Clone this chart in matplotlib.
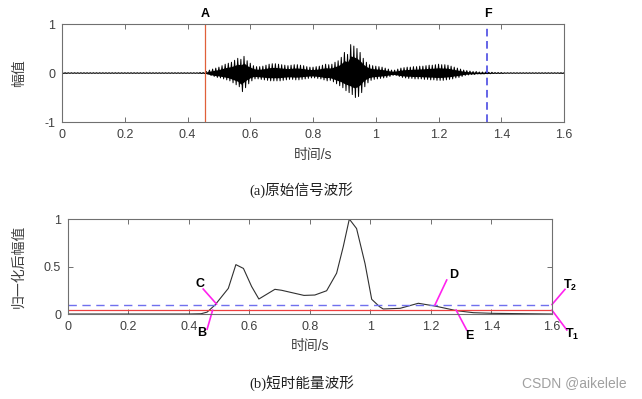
import numpy as np
import matplotlib
matplotlib.use("Agg")
import matplotlib.pyplot as plt

plt.rcParams['font.family'] = ['Liberation Sans', 'Noto Sans CJK SC', 'DejaVu Sans']
plt.rcParams['axes.unicode_minus'] = False
plt.rcParams['mathtext.fontset'] = 'custom'
plt.rcParams['mathtext.bf'] = 'Liberation Sans:bold'
plt.rcParams['mathtext.rm'] = 'Liberation Sans'

# --- waveform envelope (0.01 s steps) ---
wave_t0 = 0.0
wave_dt = 0.01
quiet_before = [0.006] * 44      # 0.00 .. 0.43
quiet_after = [0.006] * 20       # 1.41 .. 1.60
speech_upper = [
    0.01, 0.01, 0.03, 0.06, 0.08, 0.10, 0.12, 0.15, 0.18, 0.20, 0.22, 0.26, 0.30, 0.28, 0.34, 0.25,
    0.20, 0.15, 0.13, 0.13, 0.14, 0.16, 0.18, 0.19, 0.19, 0.18, 0.17, 0.16, 0.15, 0.16, 0.17, 0.17,
    0.16, 0.15, 0.13, 0.12, 0.12, 0.13, 0.14, 0.16, 0.18, 0.17, 0.18, 0.22, 0.25, 0.32, 0.42, 0.38,
    0.58, 0.55, 0.50, 0.42, 0.30, 0.22, 0.17, 0.15, 0.14, 0.13, 0.12, 0.10, 0.08, 0.06, 0.06, 0.08,
    0.10, 0.11, 0.12, 0.12, 0.13, 0.13, 0.14, 0.14, 0.15, 0.16, 0.16, 0.17, 0.18, 0.17, 0.17, 0.16,
    0.14, 0.12, 0.10, 0.08, 0.06, 0.05, 0.04, 0.03, 0.03, 0.02, 0.02, 0.02, 0.015, 0.015, 0.01, 0.01,
    0.01,
]
speech_lower = [
    0.01, 0.01, 0.02, 0.05, 0.07, 0.09, 0.10, 0.12, 0.14, 0.16, 0.20, 0.24, 0.28, 0.38, 0.30, 0.22,
    0.16, 0.12, 0.12, 0.13, 0.14, 0.15, 0.16, 0.16, 0.16, 0.16, 0.15, 0.14, 0.13, 0.13, 0.14, 0.14,
    0.13, 0.12, 0.11, 0.10, 0.10, 0.11, 0.12, 0.14, 0.16, 0.15, 0.18, 0.22, 0.26, 0.30, 0.36, 0.40,
    0.44, 0.50, 0.48, 0.40, 0.28, 0.20, 0.15, 0.13, 0.12, 0.11, 0.10, 0.09, 0.07, 0.05, 0.05, 0.07,
    0.09, 0.10, 0.11, 0.11, 0.12, 0.12, 0.12, 0.13, 0.13, 0.14, 0.14, 0.15, 0.15, 0.15, 0.14, 0.13,
    0.12, 0.10, 0.09, 0.07, 0.05, 0.04, 0.03, 0.03, 0.02, 0.02, 0.02, 0.015, 0.015, 0.01, 0.01, 0.01,
    0.01,
]
point_A = 0.456
point_F = 1.356

# --- short-time energy (normalised) ---
energy_t = [0, 0.40, 0.44, 0.46, 0.486, 0.53, 0.555, 0.58, 0.607, 0.631, 0.684, 0.706, 0.78,
            0.816, 0.855, 0.888, 0.91, 0.93, 0.954, 0.982, 1.004, 1.03, 1.042, 1.098, 1.158,
            1.213, 1.285, 1.34, 1.405, 1.6]
energy_v = [0, 0, 0.003, 0.02, 0.095, 0.27, 0.52, 0.48, 0.29, 0.158, 0.26, 0.25, 0.196,
            0.2, 0.245, 0.43, 0.71, 1.0, 0.9, 0.53, 0.155, 0.077, 0.053, 0.06, 0.113,
            0.084, 0.035, 0.014, 0.007, 0.0]
T1 = 0.04
T2 = 0.10

x_ticks = [0, 0.2, 0.4, 0.6, 0.8, 1, 1.2, 1.4, 1.6]
x_ticklabels = ['0', '0.2', '0.4', '0.6', '0.8', '1', '1.2', '1.4', '1.6']

TICK_C = '#404040'
SPINE_C = '#707070'
MAGENTA = '#ff22ee'


def style_axes(ax):
    for s in ax.spines.values():
        s.set_color(SPINE_C)
        s.set_linewidth(0.8)
    ax.tick_params(direction='in', length=3.5, width=0.7, color=SPINE_C,
                   labelcolor=TICK_C, labelsize=9, top=True, right=True, pad=5)
    ax.set_xlim(0, 1.6)
    ax.set_xticks(x_ticks)
    ax.set_xticklabels(x_ticklabels)


fig = plt.figure(figsize=(6.42, 3.99), dpi=100)

# ---------- (a) waveform ----------
ax1 = fig.add_axes([0.0966, 0.6942, 0.782, 0.2456])
upper = np.array(quiet_before + speech_upper + quiet_after)
lower = np.array(quiet_before + speech_lower + quiet_after)
t = wave_t0 + wave_dt * np.arange(len(upper))
# dense core of the oscillation, then the individual swings on top
ax1.fill_between(t, 0.6 * upper, -0.6 * lower, color='black', lw=0)
xs = np.column_stack([t, t + wave_dt / 2]).ravel()
ys = np.column_stack([upper, -lower]).ravel()
ax1.plot(xs, ys, color='black', lw=0.7)
ax1.axvline(point_A, color='#e0603a', lw=0.9)
ax1.axvline(point_F, color='#3a3ae0', lw=1.1, dashes=(5, 3))
ax1.set_ylim(-1, 1)
ax1.set_yticks([-1, 0, 1])
style_axes(ax1)
ax1.text(point_A, 1.04, 'A', transform=ax1.get_xaxis_transform(), ha='center', va='bottom',
         fontsize=9, fontweight='bold')
ax1.text(point_F, 1.04, 'F', transform=ax1.get_xaxis_transform(), ha='center', va='bottom',
         fontsize=9, fontweight='bold')
ax1.set_xlabel('时间/s', fontsize=10, color=TICK_C)
ax1.xaxis.set_label_coords(0.5, -0.265)
ax1.set_ylabel('幅值', fontsize=10, color=TICK_C)
ax1.yaxis.set_label_coords(-0.072, 0.5)

# ---------- (b) short-time energy ----------
ax2 = fig.add_axes([0.1059, 0.213, 0.7539, 0.238])
ax2.plot(energy_t, energy_v, color='#303030', lw=0.8)
ax2.axhline(T2, color='#7070ee', lw=1.0, dashes=(6, 4))
ax2.axhline(T1, color='#ee4040', lw=0.9)
ax2.set_ylim(0, 1)
ax2.set_yticks([0, 0.5, 1])
ax2.set_yticklabels(['0', '0.5', '1'])
style_axes(ax2)
ax2.set_xlabel('时间/s', fontsize=10, color=TICK_C)
ax2.xaxis.set_label_coords(0.5, -0.263)
ax2.set_ylabel('归一化后幅值', fontsize=10, color=TICK_C)
ax2.yaxis.set_label_coords(-0.087, 0.5)

# magenta pointer lines: (label, text pos, line start, line end)
pointers = [
    ('C', (0.436, 0.32), (0.447, 0.263), (0.491, 0.105)),
    ('B', (0.442, -0.20), (0.460, -0.160), (0.478, 0.040)),
    ('D', (1.274, 0.41), (1.252, 0.358), (1.213, 0.095)),
    ('E', (1.326, -0.23), (1.318, -0.168), (1.283, 0.042)),
    (r'$\mathbf{T_2}$', (1.660, 0.30), (1.643, 0.260), (1.600, 0.100)),
    (r'$\mathbf{T_1}$', (1.668, -0.22), (1.649, -0.168), (1.600, 0.040)),
]
for label, tpos, p0, p1 in pointers:
    ax2.plot([p0[0], p1[0]], [p0[1], p1[1]], color=MAGENTA, lw=1.2, clip_on=False)
    ax2.text(tpos[0], tpos[1], label, ha='center', va='center', fontsize=9,
             fontweight='bold', clip_on=False)

# captions
cap_font = ['Liberation Serif', 'Noto Sans CJK SC']
fig.text(0.47, 1 - 190 / 399, '(a)原始信号波形', ha='center', va='center',
         fontsize=10.5, family=cap_font, color='#202020')
fig.text(0.47, 1 - 383 / 399, '(b)短时能量波形', ha='center', va='center',
         fontsize=10.5, family=cap_font, color='#202020')
fig.text(0.976, 1 - 383 / 399, 'CSDN @aikelele', ha='right', va='center',
         fontsize=10, color='#a0a0a0')

fig.savefig('out.png', dpi=100)
